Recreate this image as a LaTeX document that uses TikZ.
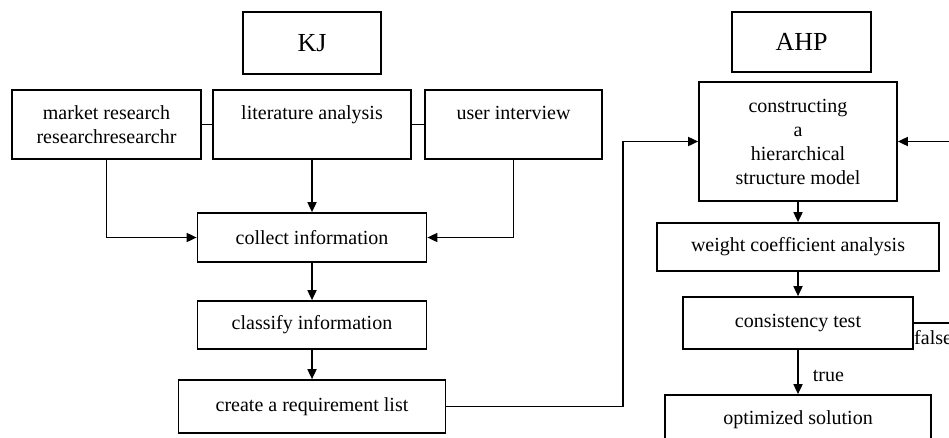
\documentclass[tikz,border=0pt]{standalone}
\usepackage{fontspec}
\setmainfont{Liberation Serif}
\usetikzlibrary{arrows.meta}
\begin{document}
\begin{tikzpicture}[x=1pt,y=-1pt,
  box/.style={draw, line width=1.7pt, inner sep=0pt, align=center,
    font=\fontsize{20}{24}\selectfont},
  title/.style={draw, line width=1.7pt, inner sep=0pt,
    font=\fontsize{26}{30}\selectfont},
  lbl/.style={inner sep=0pt, font=\fontsize{20}{24}\selectfont},
  conn/.style={line width=1.7pt},
  arr/.style={line width=1.7pt, -{Triangle[length=10pt,width=9pt]}}]
\useasboundingbox (0,0) rectangle (949,437);
\clip (0,0) rectangle (949,437);
% KJ side
\node[title, minimum width=138pt, minimum height=62pt] (kj) at (312,43) {KJ};
\node[box, minimum width=189pt, minimum height=69pt] (market) at (106.5,124.5) {market research\\researchresearchr};
\node[box, minimum width=198pt, minimum height=69pt] (lit) at (312,124.5) {literature analysis\\\mbox{}};
\node[box, minimum width=177pt, minimum height=69pt] (user) at (513.5,124.5) {user interview\\\mbox{}};
\node[box, minimum width=229pt, minimum height=49pt] (collect) at (312,237.5) {collect information};
\node[box, minimum width=229pt, minimum height=48pt] (classify) at (312,325) {classify information};
\node[box, minimum width=267pt, minimum height=53pt] (create) at (312,406.5) {create a requirement list};
% AHP side
\node[title, minimum width=139pt, minimum height=60pt] (ahp) at (801.5,42) {AHP};
\node[box, minimum width=198pt, minimum height=119pt] (cons) at (798,141.5) {constructing\\a\\hierarchical\\structure model};
\node[box, minimum width=282pt, minimum height=48pt] (weight) at (798,247) {weight coefficient analysis};
\node[box, minimum width=230pt, minimum height=52pt] (test) at (798,323) {consistency test};
\node[box, minimum width=266pt, minimum height=50pt] (opt) at (798,420) {optimized solution};
% connectors KJ
\draw[conn] (market.east) -- (lit.west);
\draw[conn] (lit.east) -- (user.west);
\draw[arr] (market.south) |- (collect.west);
\draw[arr] (lit.south) -- (collect.north);
\draw[arr] (user.south) |- (collect.east);
\draw[arr] (collect.south) -- (classify.north);
\draw[arr] (classify.south) -- (create.north);
% link
\coordinate (j1) at (623,0);
\draw[arr] (create.east) -| (j1 |- cons.west) -- (cons.west);
% connectors AHP
\draw[arr] (cons.south) -- (weight.north);
\draw[arr] (weight.south) -- (test.north);
\draw[arr] (test.south) -- node[lbl, right=14pt, pos=0.6] (truel) {true} (opt.north);
\coordinate (f1) at (965,323);
\draw[arr] (test.east) -- (f1) |- (cons.east);
\node[lbl, anchor=west] (falsel) at (914,338) {false};
\end{tikzpicture}
\end{document}
